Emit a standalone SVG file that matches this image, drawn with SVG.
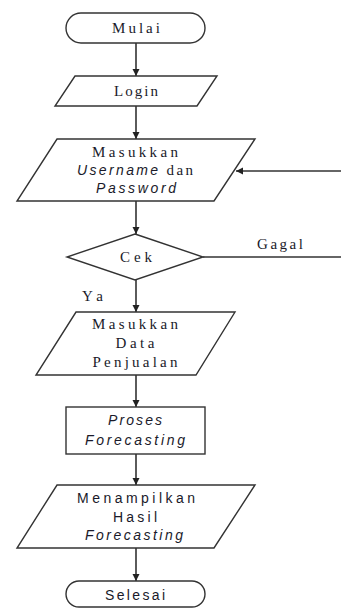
<svg xmlns="http://www.w3.org/2000/svg" width="341" height="609" viewBox="0 0 341 609">
<style>
.s{fill:#fff;stroke:#333;stroke-width:1.4}
.c{fill:none;stroke:#333;stroke-width:1.6}
text{fill:#1a1a2a;text-anchor:middle}
.sf{font-family:"Liberation Serif","DejaVu Serif",serif;font-size:15px}
.ss{font-family:"Liberation Sans","DejaVu Sans",sans-serif;font-size:14px}
.it{font-family:"Liberation Sans","DejaVu Sans",sans-serif;font-style:italic;font-size:14px}
</style>
<defs>
<marker id="ah" markerWidth="8" markerHeight="8" refX="7" refY="4" orient="auto" markerUnits="userSpaceOnUse">
<path d="M0,0.5 L7,4 L0,7.5 Z" fill="#222"/>
</marker>
</defs>
<rect width="341" height="609" fill="#fff"/>
<g id="connectors">
<line class="c" x1="136" y1="43" x2="136" y2="76" marker-end="url(#ah)"/>
<line class="c" x1="136" y1="106" x2="136" y2="139" marker-end="url(#ah)"/>
<line class="c" x1="136" y1="201" x2="136" y2="234" marker-end="url(#ah)"/>
<line class="c" x1="136" y1="280" x2="136" y2="312" marker-end="url(#ah)"/>
<line class="c" x1="136" y1="375" x2="136" y2="407" marker-end="url(#ah)"/>
<line class="c" x1="136" y1="454" x2="136" y2="485" marker-end="url(#ah)"/>
<line class="c" x1="136" y1="548" x2="136" y2="581" marker-end="url(#ah)"/>
<line class="c" x1="203" y1="257" x2="341" y2="257"/>
<line class="c" x1="341" y1="171" x2="236" y2="171" marker-end="url(#ah)"/>
<text class="sf" x="280" y="249" textLength="46" lengthAdjust="spacing">Gagal</text>
<text class="sf" x="92.5" y="301" textLength="21" lengthAdjust="spacing">Ya</text>
</g>
<g id="mulai">
<rect class="s" x="66" y="13" width="139" height="30" rx="15"/>
<text class="sf" x="136" y="33" textLength="48" lengthAdjust="spacing">Mulai</text>
</g>
<g id="login">
<polygon class="s" points="75,76 217,76 197,106 55,106"/>
<text class="sf" x="136" y="96" textLength="44" lengthAdjust="spacing">Login</text>
</g>
<g id="input-user">
<polygon class="s" points="57,139 255,139 214,201 17,201"/>
<text class="sf" x="135" y="157" textLength="86" lengthAdjust="spacing">Masukkan</text>
<text x="135" y="175" textLength="116" lengthAdjust="spacing"><tspan class="it">Username</tspan><tspan class="sf"> dan</tspan></text>
<text class="it" x="136" y="193" textLength="80" lengthAdjust="spacing">Password</text>
</g>
<g id="cek">
<polygon class="s" points="135,234 203,257 135,280 67,257"/>
<text class="sf" x="136" y="262" textLength="32" lengthAdjust="spacing">Cek</text>
</g>
<g id="input-data">
<polygon class="s" points="76,312 235,312 196,375 36,375"/>
<text class="sf" x="135" y="329" textLength="86" lengthAdjust="spacing">Masukkan</text>
<text class="sf" x="135" y="348" textLength="39" lengthAdjust="spacing">Data</text>
<text class="sf" x="135" y="367" textLength="85" lengthAdjust="spacing">Penjualan</text>
</g>
<g id="proses">
<rect class="s" x="66" y="407" width="139" height="47"/>
<text class="it" x="135" y="425" textLength="54" lengthAdjust="spacing">Proses</text>
<text class="it" x="135" y="445" textLength="100" lengthAdjust="spacing">Forecasting</text>
</g>
<g id="output">
<polygon class="s" points="57,485 255,485 214,548 17,548"/>
<text class="ss" x="136" y="503" textLength="118" lengthAdjust="spacing">Menampilkan</text>
<text class="ss" x="135" y="522" textLength="44" lengthAdjust="spacing">Hasil</text>
<text class="it" x="134" y="540" textLength="98" lengthAdjust="spacing">Forecasting</text>
</g>
<g id="selesai">
<rect class="s" x="66" y="581" width="139" height="26" rx="13"/>
<text class="ss" x="135" y="600" textLength="60" lengthAdjust="spacing">Selesai</text>
</g>
</svg>
